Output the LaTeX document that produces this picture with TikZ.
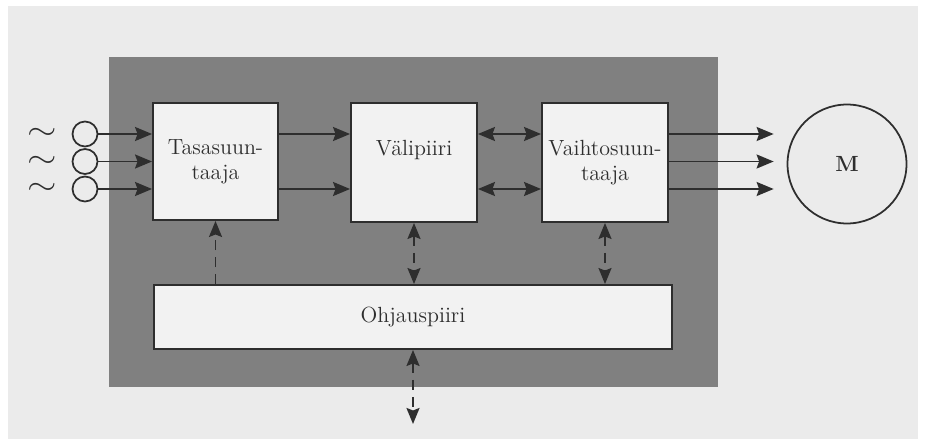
\documentclass[tikz,border=0pt]{standalone}
\usetikzlibrary{arrows.meta}
\definecolor{pagegray}{gray}{0.92}
\definecolor{panelgray}{gray}{0.5}
\definecolor{boxfill}{gray}{0.95}
\definecolor{inkgray}{gray}{0.18}
\begin{document}
\begin{tikzpicture}[
    x=0.02cm, y=-0.02cm,
    box/.style={rectangle, draw=inkgray, fill=boxfill, line width=1.1pt, align=center, inner sep=0pt, text=inkgray, font=\fontsize{12.5}{14}\selectfont},
    phase/.style={circle, draw=inkgray, line width=1pt, minimum size=0.5cm, inner sep=0pt},
    wave/.style={inner sep=0pt, font=\Large, text=inkgray},
    arrow/.style={-{Stealth[length=0.34cm, width=0.28cm, inset=0.05cm]}, line width=1.1pt, draw=inkgray},
    both/.style={{Stealth[length=0.34cm, width=0.28cm, inset=0.05cm]}-{Stealth[length=0.34cm, width=0.28cm, inset=0.05cm]}, line width=1.1pt, draw=inkgray},
    ctrl/.style={{Stealth[length=0.32cm, width=0.26cm, inset=0.05cm]}-{Stealth[length=0.32cm, width=0.26cm, inset=0.05cm]}, dash pattern=on 0.2cm off 0.14cm, line width=1.1pt, draw=inkgray},
    ctrlup/.style={-{Stealth[length=0.32cm, width=0.26cm, inset=0.05cm]}, dash pattern=on 0.2cm off 0.14cm, line width=1.1pt, draw=inkgray}
]
\useasboundingbox (0,0) rectangle (926,439);
\fill[white] (0,0) rectangle (926,439);
\fill[pagegray] (8,6) rectangle (918,439);
\fill[panelgray] (109,57) rectangle (718,387);

\coordinate (rowA) at (0,134);
\coordinate (rowB) at (0,161.5);
\coordinate (rowC) at (0,189);

\node[box, minimum width=2.5cm, minimum height=2.34cm] (tasa) at (215.5,161.5) {Tasasuun-\\taaja};
\node[box, minimum width=2.52cm, minimum height=2.38cm] (vali) at (414,162.5) {V\"alipiiri\\\phantom{taaja}};
\node[box, minimum width=2.52cm, minimum height=2.38cm] (vaihto) at (605,162.5) {Vaihtosuun-\\taaja};
\node[box, minimum width=10.38cm, minimum height=1.28cm] (ohjaus) at (413,317) {Ohjauspiiri};
\node[circle, draw=inkgray, line width=1pt, minimum size=2.38cm, inner sep=0pt, text=inkgray, font=\fontsize{12.5}{14}\selectfont\bfseries] (M) at (847,164) {M};

\node[wave] (tildeA) at (42,134) {\scalebox{1.5}[1.2]{$\sim$}};
\node[wave] (tildeB) at (42,161.5) {\scalebox{1.5}[1.2]{$\sim$}};
\node[wave] (tildeC) at (42,189) {\scalebox{1.5}[1.2]{$\sim$}};
\node[phase] (inA) at (85,134) {};
\node[phase] (inB) at (85,161.5) {};
\node[phase] (inC) at (85,189) {};

\coordinate (out) at (413,424);

\draw[arrow] (inA) -- (tasa.west |- rowA);
\draw[arrow] (inB) -- (tasa.west |- rowB);
\draw[arrow] (inC) -- (tasa.west |- rowC);
\draw[arrow] (tasa.east |- rowA) -- (vali.west |- rowA);
\draw[arrow] (tasa.east |- rowC) -- (vali.west |- rowC);
\draw[both] (vali.east |- rowA) -- (vaihto.west |- rowA);
\draw[both] (vali.east |- rowC) -- (vaihto.west |- rowC);
\draw[arrow, shorten >=0.26cm] (vaihto.east |- rowA) -- (M.west |- rowA);
\draw[arrow, shorten >=0.26cm] (vaihto.east |- rowB) -- (M.west |- rowB);
\draw[arrow, shorten >=0.26cm] (vaihto.east |- rowC) -- (M.west |- rowC);

\draw[ctrlup] (tasa.south |- ohjaus.north) -- (tasa.south);
\draw[ctrl] (vali.south) -- (vali.south |- ohjaus.north);
\draw[ctrl] (vaihto.south) -- (vaihto.south |- ohjaus.north);
\draw[ctrl] (ohjaus.south) -- (out);

\end{tikzpicture}
\end{document}
